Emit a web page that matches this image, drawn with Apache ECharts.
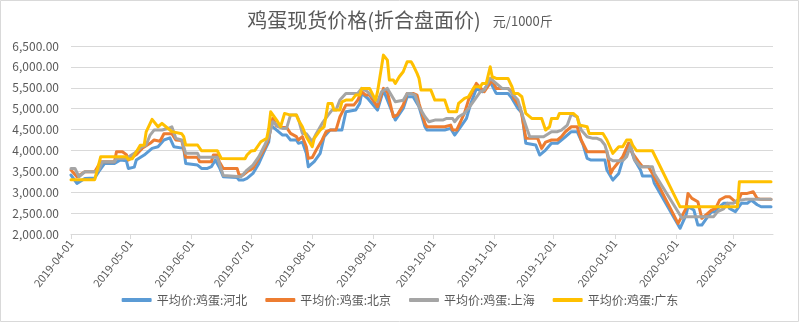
<!DOCTYPE html>
<html><head><meta charset="utf-8">
<script src="https://cdn.jsdelivr.net/npm/echarts@6/dist/echarts.min.js"></script>
<style>html,body{margin:0;padding:0;background:#fff}#c{width:800px;height:323px}</style>
</head><body><div id="c"></div>
<script>
const titleText = '鸡蛋现货价格(折合盘面价)';
const unitText = '元/1000斤';
const seriesNames = ['平均价:鸡蛋:河北','平均价:鸡蛋:北京','平均价:鸡蛋:上海','平均价:鸡蛋:广东'];
const monthTicks = ['2019-04-01','2019-05-01','2019-06-01','2019-07-01','2019-08-01','2019-09-01','2019-10-01','2019-11-01','2019-12-01','2020-01-01','2020-02-01','2020-03-01'];
const yTicks = [2000,2500,3000,3500,4000,4500,5000,5500,6000,6500];

const hebei = [
['2019-04-01',3410],['2019-04-04',3212],['2019-04-08',3330],['2019-04-13',3340],['2019-04-15',3490],['2019-04-18',3690],['2019-04-23',3690],['2019-04-26',3770],['2019-04-29',3750],['2019-04-30',3570],['2019-05-03',3600],['2019-05-04',3770],['2019-05-08',3890],['2019-05-12',4050],['2019-05-15',4090],['2019-05-18',4250],['2019-05-21',4300],['2019-05-23',4090],['2019-05-28',4050],['2019-05-29',3690],['2019-06-04',3650],['2019-06-06',3570],['2019-06-09',3570],['2019-06-11',3610],['2019-06-13',3770],['2019-06-15',3600],['2019-06-17',3370],['2019-06-24',3350],['2019-06-25',3290],['2019-06-27',3290],['2019-06-29',3330],['2019-07-02',3450],['2019-07-05',3690],['2019-07-08',4010],['2019-07-10',4208],['2019-07-11',4607],['2019-07-14',4488],['2019-07-17',4368],['2019-07-19',4368],['2019-07-21',4250],['2019-07-24',4250],['2019-07-25',4170],['2019-07-27',4200],['2019-07-29',3930],['2019-07-30',3610],['2019-08-02',3730],['2019-08-05',3930],['2019-08-07',4328],['2019-08-10',4488],['2019-08-16',4488],['2019-08-18',4925],['2019-08-23',4966],['2019-08-25',5125],['2019-08-26',5365],['2019-08-29',5250],['2019-09-03',4966],['2019-09-06',5445],['2019-09-12',4727],['2019-09-16',5006],['2019-09-18',5285],['2019-09-21',5285],['2019-09-24',5045],['2019-09-27',4567],['2019-09-28',4488],['2019-10-07',4488],['2019-10-08',4528],['2019-10-10',4528],['2019-10-12',4368],['2019-10-13',4368],['2019-10-15',4567],['2019-10-18',4767],['2019-10-20',5100],['2019-10-23',5480],['2019-10-26',5405],['2019-10-30',5644],['2019-11-02',5365],['2019-11-08',5365],['2019-11-10',5245],['2019-11-13',5006],['2019-11-15',4900],['2019-11-17',4170],['2019-11-22',4130],['2019-11-24',3890],['2019-11-25',3890],['2019-11-27',4010],['2019-11-30',4170],['2019-12-03',4170],['2019-12-05',4250],['2019-12-07',4328],['2019-12-10',4448],['2019-12-13',4448],['2019-12-16',4130],['2019-12-18',3810],['2019-12-20',3770],['2019-12-27',3770],['2019-12-28',3530],['2019-12-31',3290],['2020-01-03',3450],['2020-01-05',3770],['2020-01-08',4170],['2020-01-11',3770],['2020-01-14',3530],['2020-01-15',3387],['2020-01-20',3387],['2020-01-21',3212],['2020-02-03',2136],['2020-02-06',2454],['2020-02-07',2653],['2020-02-10',2574],['2020-02-12',2215],['2020-02-14',2215],['2020-02-17',2415],['2020-02-19',2534],['2020-02-21',2534],['2020-02-22',2614],['2020-02-25',2734],['2020-02-27',2734],['2020-02-28',2614],['2020-03-02',2534],['2020-03-03',2534],['2020-03-05',2734],['2020-03-08',2734],['2020-03-10',2813],['2020-03-13',2700],['2020-03-15',2653],['2020-03-20',2653]
];
const beijing = [
['2019-04-01',3530],['2019-04-04',3370],['2019-04-08',3490],['2019-04-13',3490],['2019-04-16',3730],['2019-04-23',3730],['2019-04-24',3970],['2019-04-27',3970],['2019-04-29',3900],['2019-04-30',3770],['2019-05-04',3900],['2019-05-07',4050],['2019-05-11',4170],['2019-05-13',4250],['2019-05-16',4220],['2019-05-18',4400],['2019-05-22',4400],['2019-05-24',4250],['2019-05-27',4240],['2019-05-29',3835],['2019-06-04',3835],['2019-06-05',3730],['2019-06-11',3730],['2019-06-12',3890],['2019-06-14',3890],['2019-06-15',3730],['2019-06-17',3570],['2019-06-24',3570],['2019-06-25',3411],['2019-06-27',3411],['2019-06-29',3490],['2019-07-02',3570],['2019-07-04',3730],['2019-07-08',4050],['2019-07-10',4290],['2019-07-12',4767],['2019-07-14',4583],['2019-07-17',4552],['2019-07-19',4552],['2019-07-21',4408],['2019-07-24',4330],['2019-07-25',4250],['2019-07-27',4330],['2019-07-29',4090],['2019-07-30',3810],['2019-08-01',3830],['2019-08-03',4010],['2019-08-06',4250],['2019-08-08',4448],['2019-08-10',4488],['2019-08-13',4488],['2019-08-15',4806],['2019-08-16',4806],['2019-08-18',5086],['2019-08-22',5086],['2019-08-24',5205],['2019-08-26',5405],['2019-08-28',5325],['2019-08-30',5325],['2019-09-03',5045],['2019-09-06',5485],['2019-09-08',5400],['2019-09-11',4806],['2019-09-13',4850],['2019-09-16',5086],['2019-09-18',5365],['2019-09-21',5365],['2019-09-23',5325],['2019-09-24',5126],['2019-09-27',4647],['2019-09-28',4567],['2019-10-07',4567],['2019-10-08',4607],['2019-10-10',4607],['2019-10-11',4488],['2019-10-13',4488],['2019-10-15',4687],['2019-10-17',4900],['2019-10-19',5205],['2019-10-23',5604],['2019-10-25',5500],['2019-10-27',5405],['2019-10-31',5684],['2019-11-02',5485],['2019-11-08',5485],['2019-11-10',5400],['2019-11-11',5245],['2019-11-14',5045],['2019-11-15',4846],['2019-11-17',4290],['2019-11-23',4290],['2019-11-25',4050],['2019-11-27',4200],['2019-11-30',4250],['2019-12-03',4250],['2019-12-05',4330],['2019-12-07',4448],['2019-12-10',4567],['2019-12-13',4567],['2019-12-15',4250],['2019-12-18',3970],['2019-12-28',3970],['2019-12-30',3450],['2019-12-31',3550],['2020-01-05',3850],['2020-01-08',4170],['2020-01-10',3930],['2020-01-13',3730],['2020-01-15',3610],['2020-01-18',3610],['2020-01-20',3450],['2020-02-02',2255],['2020-02-06',2614],['2020-02-07',2972],['2020-02-09',2853],['2020-02-12',2773],['2020-02-14',2375],['2020-02-17',2494],['2020-02-19',2574],['2020-02-21',2614],['2020-02-23',2813],['2020-02-26',2893],['2020-02-28',2893],['2020-03-01',2813],['2020-03-03',2734],['2020-03-05',2972],['2020-03-08',2972],['2020-03-11',3012],['2020-03-13',2850],['2020-03-15',2829],['2020-03-20',2829]
];
const shanghai = [
['2019-04-01',3570],['2019-04-03',3570],['2019-04-05',3370],['2019-04-08',3490],['2019-04-13',3490],['2019-04-15',3530],['2019-04-17',3730],['2019-04-23',3730],['2019-04-24',3810],['2019-04-29',3810],['2019-04-30',3770],['2019-05-03',3930],['2019-05-07',4090],['2019-05-09',4130],['2019-05-11',4368],['2019-05-13',4488],['2019-05-17',4488],['2019-05-20',4525],['2019-05-22',4567],['2019-05-24',4290],['2019-05-27',4250],['2019-05-29',3930],['2019-06-04',3930],['2019-06-05',3835],['2019-06-14',3835],['2019-06-15',3880],['2019-06-17',3400],['2019-06-26',3370],['2019-06-29',3530],['2019-07-02',3650],['2019-07-05',3850],['2019-07-08',4130],['2019-07-10',4330],['2019-07-12',4687],['2019-07-13',4687],['2019-07-15',4567],['2019-07-17',4528],['2019-07-19',4528],['2019-07-21',4846],['2019-07-24',4846],['2019-07-25',4750],['2019-07-27',4408],['2019-07-29',4400],['2019-08-01',4208],['2019-08-03',4400],['2019-08-06',4647],['2019-08-09',4846],['2019-08-11',4966],['2019-08-13',4966],['2019-08-15',5205],['2019-08-16',5205],['2019-08-18',5365],['2019-08-24',5365],['2019-08-26',5485],['2019-08-29',5405],['2019-09-03',5165],['2019-09-05',5405],['2019-09-08',5485],['2019-09-09',5485],['2019-09-12',5165],['2019-09-16',5200],['2019-09-18',5365],['2019-09-20',5365],['2019-09-22',5325],['2019-09-24',5045],['2019-09-27',4806],['2019-09-29',4687],['2019-10-02',4727],['2019-10-06',4727],['2019-10-08',4767],['2019-10-11',4767],['2019-10-12',4687],['2019-10-14',4806],['2019-10-17',4886],['2019-10-19',5006],['2019-10-22',5205],['2019-10-25',5405],['2019-10-27',5445],['2019-10-30',5724],['2019-11-02',5604],['2019-11-03',5604],['2019-11-05',5485],['2019-11-08',5485],['2019-11-10',5365],['2019-11-13',5205],['2019-11-15',4886],['2019-11-17',4600],['2019-11-19',4328],['2019-11-26',4328],['2019-11-27',4368],['2019-11-30',4448],['2019-12-03',4448],['2019-12-05',4488],['2019-12-08',4607],['2019-12-10',4870],['2019-12-13',4800],['2019-12-15',4488],['2019-12-18',4328],['2019-12-21',4290],['2019-12-23',4290],['2019-12-25',4250],['2019-12-27',4130],['2019-12-29',3810],['2019-12-31',3753],['2020-01-05',3753],['2020-01-07',3850],['2020-01-09',4130],['2020-01-11',3770],['2020-01-14',3610],['2020-01-20',3610],['2020-01-21',3450],['2020-02-04',2375],['2020-02-06',2415],['2020-02-20',2415],['2020-02-22',2534],['2020-02-25',2600],['2020-02-27',2734],['2020-03-01',2734],['2020-03-03',2813],['2020-03-05',2813],['2020-03-07',2829],['2020-03-20',2829]
];
const guangdong = [
['2019-04-01',3300],['2019-04-13',3300],['2019-04-16',3848],['2019-04-29',3848],['2019-04-30',3790],['2019-05-02',3800],['2019-05-06',4127],['2019-05-08',4127],['2019-05-09',4445],['2019-05-12',4743],['2019-05-15',4567],['2019-05-17',4647],['2019-05-19',4567],['2019-05-22',4450],['2019-05-27',4400],['2019-05-28',4330],['2019-05-29',4130],['2019-06-04',4130],['2019-06-06',3993],['2019-06-14',3993],['2019-06-16',3810],['2019-06-28',3800],['2019-06-29',3890],['2019-07-01',3985],['2019-07-03',4000],['2019-07-06',4208],['2019-07-09',4290],['2019-07-10',4528],['2019-07-11',4925],['2019-07-14',4727],['2019-07-16',4567],['2019-07-18',4886],['2019-07-21',4846],['2019-07-24',4846],['2019-07-25',4727],['2019-07-27',4567],['2019-07-29',4328],['2019-08-01',4090],['2019-08-02',4290],['2019-08-05',4488],['2019-08-07',4567],['2019-08-09',5126],['2019-08-11',5126],['2019-08-12',4966],['2019-08-15',4966],['2019-08-16',5165],['2019-08-18',5205],['2019-08-21',5205],['2019-08-23',5325],['2019-08-25',5325],['2019-08-26',5485],['2019-08-30',5485],['2019-09-02',5205],['2019-09-03',5400],['2019-09-06',6282],['2019-09-08',6162],['2019-09-09',5684],['2019-09-11',5684],['2019-09-12',5604],['2019-09-14',5764],['2019-09-16',5884],['2019-09-17',5884],['2019-09-18',6122],['2019-09-20',6122],['2019-09-21',6042],['2019-09-23',5844],['2019-09-24',5724],['2019-09-25',5445],['2019-09-30',5445],['2019-10-01',5325],['2019-10-02',5205],['2019-10-07',5205],['2019-10-09',4925],['2019-10-13',4925],['2019-10-14',5126],['2019-10-17',5245],['2019-10-19',5285],['2019-10-20',5325],['2019-10-22',5525],['2019-10-25',5525],['2019-10-26',5604],['2019-10-28',5604],['2019-10-30',6002],['2019-10-31',5764],['2019-11-02',5724],['2019-11-08',5724],['2019-11-10',5525],['2019-11-11',5365],['2019-11-13',5365],['2019-11-15',5285],['2019-11-17',4886],['2019-11-20',4767],['2019-11-25',4767],['2019-11-27',4488],['2019-11-29',4567],['2019-11-30',4767],['2019-12-03',4767],['2019-12-04',4886],['2019-12-11',4886],['2019-12-13',4806],['2019-12-14',4607],['2019-12-18',4567],['2019-12-19',4408],['2019-12-26',4408],['2019-12-28',4250],['2019-12-31',3930],['2020-01-03',4090],['2020-01-05',4090],['2020-01-07',4250],['2020-01-09',4250],['2020-01-10',4130],['2020-01-12',3993],['2020-01-20',3993],['2020-02-03',2650],['2020-03-03',2650],['2020-03-04',3251],['2020-03-20',3251]
];

const colors = ['#5B9BD5','#ED7D31','#A5A5A5','#FFC000'];
const seriesData = [hebei, beijing, shanghai, guangdong];

function parseDate(s){ const p=s.split('-').map(Number); return new Date(p[0],p[1]-1,p[2]).getTime(); }
function fmtDate(v){ const d=new Date(v); const m=d.getMonth()+1, dd=d.getDate(); return d.getFullYear()+'-'+(m<10?'0':'')+m+'-'+(dd<10?'0':'')+dd; }
const tickVals = monthTicks.map(parseDate);
const FONT = '"Noto Sans CJK SC","Noto Sans",sans-serif';

const chart = echarts.init(document.getElementById('c'), null, {renderer:'canvas'});
chart.setOption({
  animation:false,
  backgroundColor:'#fff',
  textStyle:{fontFamily:FONT},
  title:{
    left:'center', top:5,
    text:'{a|'+titleText+'}   {b|'+unitText+'}',
    textStyle:{fontWeight:'normal',rich:{
      a:{fontSize:20,color:'#595959',fontFamily:FONT,fontWeight:'normal',verticalAlign:'bottom'},
      b:{fontSize:13,color:'#595959',fontFamily:FONT,fontWeight:'normal',verticalAlign:'bottom',padding:[0,0,2,0]}
    }}
  },
  graphic:[{type:'rect',shape:{x:0.5,y:0.5,width:798,height:321},style:{fill:'none',stroke:'#D9D9D9',lineWidth:1},silent:true}],
  legend:{
    bottom:12, left:'center', itemWidth:30, itemHeight:4, itemGap:18, icon:'roundRect',
    textStyle:{color:'#595959',fontSize:12,fontFamily:FONT},
    data:seriesNames
  },
  grid:{left:71,right:27,top:46,bottom:89,containLabel:false},
  xAxis:{
    type:'value',
    min:parseDate('2019-04-01'), max:parseDate('2020-03-21'),
    axisLine:{show:true,onZero:false,lineStyle:{color:'#D9D9D9'}},
    axisTick:{show:true,length:5,lineStyle:{color:'#D9D9D9'},customValues:tickVals},
    axisLabel:{rotate:52,color:'#595959',fontSize:11,fontFamily:FONT,margin:7,customValues:tickVals,formatter:fmtDate},
    splitLine:{show:false}
  },
  yAxis:{
    type:'value', min:yTicks[0], max:yTicks[yTicks.length-1], interval:500,
    axisLine:{show:false}, axisTick:{show:false},
    axisLabel:{color:'#595959',fontSize:12,fontFamily:FONT,margin:12,
      formatter:v=>v.toLocaleString('en-US',{minimumFractionDigits:2,maximumFractionDigits:2})},
    splitLine:{lineStyle:{color:'#D9D9D9'}}
  },
  series: seriesNames.map((n,i)=>({
    name:n, type:'line', showSymbol:false, symbol:'none',
    data: seriesData[i].map(p=>[parseDate(p[0]),p[1]]),
    lineStyle:{width:3,color:colors[i],cap:'round',join:'round'},
    itemStyle:{color:colors[i]},
    z:2+i
  }))
});
</script></body></html>
